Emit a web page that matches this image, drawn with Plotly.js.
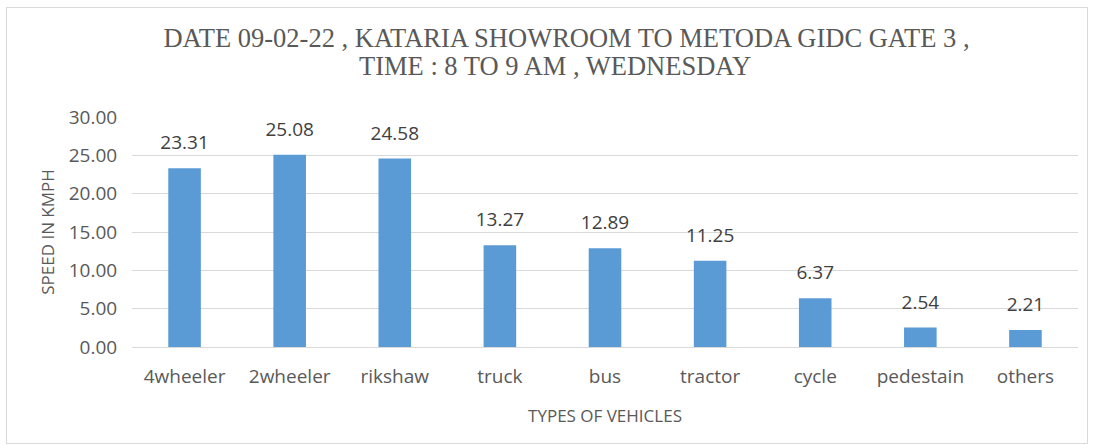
<!DOCTYPE html>
<html>
<head>
<meta charset="utf-8">
<script src="https://cdn.plot.ly/plotly-3.0.1.min.js"></script>
<style>
html,body{margin:0;padding:0;background:#fff;}
#frame{position:absolute;left:6px;top:7px;width:1082px;height:437px;border:1px solid #d9d9d9;box-sizing:border-box;}
#chart{position:absolute;left:0;top:0;width:1094px;height:448px;}
</style>
</head>
<body>
<div id="frame"></div>
<div id="chart"></div>
<script>
const categories = ["4wheeler","2wheeler","rikshaw","truck","bus","tractor","cycle","pedestain","others"];
const speeds = [23.31,25.08,24.58,13.27,12.89,11.25,6.37,2.54,2.21];
const yTicks = [0,5,10,15,20,25,30];
const titleLine1 = "DATE 09-02-22 , KATARIA SHOWROOM TO METODA GIDC GATE 3 ,";
const titleLine2 = "TIME : 8 TO 9 AM , WEDNESDAY";

const textColor = "#595959";
const sans = "'Open Sans', sans-serif";
const serif = "'Liberation Serif', 'Times New Roman', serif";

const bars = {
  type: "bar",
  x: categories,
  y: speeds,
  marker: {color: "#5b9bd5"},
  hoverinfo: "x+y",
  showlegend: false
};
const labels = {
  type: "scatter",
  mode: "markers+text",
  x: categories,
  y: speeds,
  text: speeds.map(v => v.toFixed(2)),
  textposition: "top center",
  textfont: {family: sans, size: 19, color: "#404040"},
  marker: {size: 21, opacity: 0},
  cliponaxis: false,
  hoverinfo: "skip",
  showlegend: false
};

const layout = {
  width: 1094,
  height: 448,
  paper_bgcolor: "rgba(0,0,0,0)",
  plot_bgcolor: "rgba(0,0,0,0)",
  margin: {l: 132, r: 16, t: 117, b: 101},
  bargap: 0.69,
  title: {
    text: titleLine1,
    font: {family: serif, size: 26.5, color: textColor},
    x: 566.5 / 1094, xanchor: "center",
    y: 1 - 38/448, yanchor: "middle"
  },
  annotations: [{
    text: titleLine2,
    font: {family: serif, size: 26.5, color: textColor},
    xref: "paper", yref: "paper",
    x: (555 - 132) / 946, xanchor: "center",
    y: (347 - 66) / 230, yanchor: "middle",
    showarrow: false
  }],
  xaxis: {
    type: "category",
    range: [-0.5, categories.length - 0.5],
    automargin: false,
    showgrid: false,
    showline: false,
    zeroline: false,
    ticks: "outside",
    ticklen: 12,
    tickcolor: "rgba(0,0,0,0)",
    tickfont: {family: sans, size: 19, color: textColor},
    title: {text: "TYPES OF VEHICLES", font: {family: sans, size: 17, color: textColor}, standoff: 22}
  },
  yaxis: {
    automargin: false,
    range: [0, 30],
    tickvals: yTicks,
    ticktext: yTicks.map(v => v.toFixed(2)),
    showgrid: true,
    gridcolor: "#d9d9d9",
    gridwidth: 1,
    zeroline: true,
    zerolinecolor: "#d9d9d9",
    zerolinewidth: 1,
    showline: false,
    ticks: "outside",
    ticklen: 10,
    tickcolor: "rgba(0,0,0,0)",
    tickfont: {family: sans, size: 19, color: textColor},
    title: {text: "SPEED IN KMPH", font: {family: sans, size: 17, color: textColor}, standoff: 9}
  }
};

Plotly.newPlot("chart", [bars, labels], layout, {displayModeBar: false, staticPlot: true});
</script>
</body>
</html>
